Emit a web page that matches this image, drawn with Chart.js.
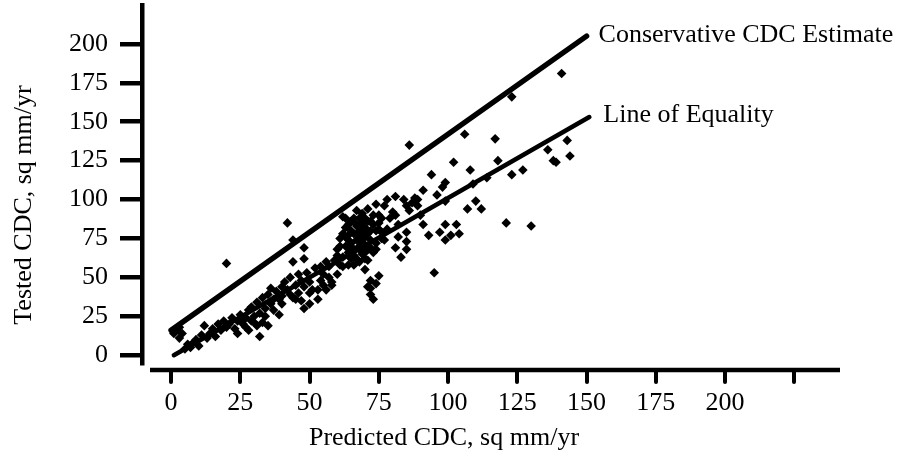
<!DOCTYPE html>
<html>
<head>
<meta charset="utf-8">
<title>Tested vs Predicted CDC</title>
<script src="https://cdn.jsdelivr.net/npm/chart.js@4.4.1/dist/chart.umd.min.js"></script>
<style>
  html, body { margin: 0; padding: 0; background: #fff; }
  #wrap { width: 899px; height: 455px; }
</style>
</head>
<body>
<div id="wrap"><canvas id="cdcChart" width="899" height="455"></canvas></div>
<script>
// Tick labels
const xTicks = [0, 25, 50, 75, 100, 125, 150, 175, 200, 225];
const yTicks = [0, 25, 50, 75, 100, 125, 150, 175, 200];

// Scatter points: predicted CDC (x) and tested CDC (y), sq mm/yr
const predicted = [
  1, 2, 3, 3, 4, 5, 6, 7, 8, 9, 10, 11, 12, 13, 14, 15, 16, 17, 18, 19, 20, 20, 21,
  22, 23, 24, 24, 25, 26, 26, 27, 27, 28, 28, 29, 29, 30, 30, 31, 31, 32, 32, 33, 33, 34, 34, 35,
  35, 36, 36, 37, 37, 38, 39, 39, 40, 40, 40, 41, 42, 42, 43, 43, 44, 44, 44, 45, 45, 46, 46,
  47, 47, 48, 48, 48, 48, 49, 50, 50, 50, 51, 52, 53, 53, 54, 54, 55, 55, 56,
  56, 57, 57, 58, 58, 59, 60, 60, 60, 61, 61, 61, 62, 62, 62, 62, 63, 63, 63, 63, 64, 64, 64, 64, 64,
  65, 65, 65, 65, 65, 66, 66, 66, 66, 66, 67, 67, 67, 67, 67, 67, 68, 68, 68, 68, 68, 68, 68,
  69, 69, 69, 69, 69, 69, 70, 70, 70, 70, 70, 70, 70, 71, 71, 71, 71, 71, 71, 72, 72, 72, 72, 72, 72, 72,
  73, 73, 73, 73, 74, 74, 74, 74, 74, 75, 75, 75, 75, 76, 76, 76, 77, 77, 78, 78, 79, 80,
  81, 81, 81, 82, 82, 83, 84, 85, 85, 85, 85, 86, 86, 87, 88, 89, 89, 90, 91, 91,
  93, 94, 95, 96, 97, 98, 99, 99, 99, 99, 101, 102, 103, 104, 106, 107, 108, 109, 110, 112,
  114,
  117, 118, 121, 123, 123, 127, 130, 136, 138, 139, 141, 143, 144
];
const tested = [
  14, 16, 11, 18, 14, 4, 7, 5, 8, 10, 6, 13, 19, 11, 14, 17, 12, 20, 16, 22, 18, 59, 20,
  24, 17, 22, 14, 26, 20, 23, 24, 18, 29, 16, 22, 31, 25, 21, 19, 34, 12, 27, 21, 37, 30, 25, 19,
  39, 33, 43, 29, 36, 41, 26, 36, 44, 33, 38, 47, 42, 85, 50, 39, 37, 60, 74, 45, 36, 40, 52,
  35, 48, 30, 44, 62, 69, 53, 33, 47, 40, 42, 56, 36, 42, 57, 48, 45, 52, 60,
  42, 50, 57, 47, 45, 61, 52, 68, 64, 75, 58, 70, 63, 89, 78, 57, 82, 70, 88, 76, 58, 66, 77, 84, 74,
  86, 72, 62, 80, 68, 78, 68, 64, 88, 58, 93, 74, 83, 84, 62, 78, 70, 68, 78, 60, 88, 82, 74,
  79, 72, 65, 85, 91, 76, 55, 71, 76, 62, 82, 88, 66, 94, 44, 68, 61, 78, 86, 48, 74, 39, 43, 80, 69, 86,
  84, 66, 36, 90, 46, 97, 72, 68, 80, 51, 81, 90, 85, 88, 75, 79, 74, 96, 81, 100, 88, 92,
  102, 69, 90, 76, 84, 63, 100, 79, 73, 96, 68, 135, 93, 98, 101, 96, 100, 90, 84, 106,
  77, 116, 53, 103, 79, 108, 84, 74, 99, 111, 77, 124, 84, 78, 142, 94, 119, 110, 99, 94,
  114,
  139, 125, 85, 166, 116, 119, 83, 132, 125, 124, 181, 138, 128
];

// Reference lines
const conservativeX = [0, 150];
const conservativeY = [16, 205];
const equalityX = [1, 151];
const equalityY = [0, 153];

const xTitle = 'Predicted CDC, sq mm/yr';
const yTitle = 'Tested CDC, sq mm/yr';
const conservativeLabel = 'Conservative CDC Estimate';
const equalityLabel = 'Line of Equality';

const serif = '"Liberation Serif", "Times New Roman", serif';
const fontSize = 26;

const toPoints = (xs, ys) => xs.map((x, i) => ({ x: x, y: ys[i] }));

// Draws the detached x axis, axis titles and the line labels
const decoPlugin = {
  id: 'deco',
  afterDraw(chart) {
    const { ctx, chartArea } = chart;
    const xs = chart.scales.x;
    const ys = chart.scales.y;
    ctx.save();

    // x axis line with ticks, sitting a little below the plot
    const axisY = chartArea.bottom + 7;
    ctx.strokeStyle = '#000';
    ctx.lineWidth = 4.5;
    ctx.lineCap = 'butt';
    ctx.beginPath();
    ctx.moveTo(chartArea.left + 8, axisY);
    ctx.lineTo(chartArea.right, axisY);
    ctx.stroke();
    ctx.lineWidth = 4;
    ctx.lineCap = 'round';
    xTicks.forEach(v => {
      const px = Math.round(xs.getPixelForValue(v));
      ctx.beginPath();
      ctx.moveTo(px, axisY);
      ctx.lineTo(px, axisY + 12);
      ctx.stroke();
    });

    ctx.fillStyle = '#000';
    ctx.font = fontSize + 'px ' + serif;

    // axis titles
    ctx.textAlign = 'center';
    ctx.textBaseline = 'alphabetic';
    ctx.fillText(xTitle, 444, 445);
    ctx.save();
    ctx.translate(31, 205);
    ctx.rotate(-Math.PI / 2);
    ctx.fillText(yTitle, 0, 0);
    ctx.restore();

    // labels at the end of each reference line
    ctx.textAlign = 'left';
    const cx = xs.getPixelForValue(conservativeX[1]);
    const cy = ys.getPixelForValue(conservativeY[1]);
    ctx.fillText(conservativeLabel, cx + 12, cy + 6);
    const ex = xs.getPixelForValue(equalityX[1]);
    const ey = ys.getPixelForValue(equalityY[1]);
    ctx.fillText(equalityLabel, ex + 14, ey + 5);

    ctx.restore();
  }
};

const ctx = document.getElementById('cdcChart').getContext('2d');
const cdcChart = new Chart(ctx, {
  type: 'scatter',
  data: {
    datasets: [
      {
        label: 'Data',
        data: toPoints(predicted, tested),
        pointStyle: 'rectRot',
        pointRadius: 4.8,
        backgroundColor: '#000',
        borderWidth: 0
      },
      {
        label: conservativeLabel,
        data: toPoints(conservativeX, conservativeY),
        showLine: true,
        pointRadius: 0,
        borderColor: '#000',
        borderWidth: 5.5,
        borderCapStyle: 'round'
      },
      {
        label: equalityLabel,
        data: toPoints(equalityX, equalityY),
        showLine: true,
        pointRadius: 0,
        borderColor: '#000',
        borderWidth: 4.5,
        borderCapStyle: 'round'
      }
    ]
  },
  options: {
    responsive: false,
    animation: false,
    layout: { padding: { left: 0, right: 59, top: 5, bottom: 0 } },
    scales: {
      x: {
        type: 'linear',
        min: -10.5,
        max: 241.5,
        afterBuildTicks: (scale) => { scale.ticks = xTicks.map(v => ({ value: v })); },
        afterFit: (scale) => {
          scale.height = 92;
          scale.paddingLeft = 0;
          scale.paddingRight = 0;
        },
        grid: { display: false, drawTicks: false, tickLength: 0 },
        border: { display: false },
        ticks: {
          padding: 25,
          color: '#000',
          font: { family: serif, size: fontSize },
          maxRotation: 0,
          callback: (v) => (v === 225 ? '' : v)
        }
      },
      y: {
        type: 'linear',
        min: -5,
        max: 225,
        afterBuildTicks: (scale) => { scale.ticks = yTicks.map(v => ({ value: v })); },
        afterFit: (scale) => {
          scale.width = 142;
          scale.paddingTop = 0;
          scale.paddingBottom = 0;
        },
        grid: {
          display: true,
          drawOnChartArea: false,
          drawTicks: true,
          tickLength: 22,
          lineWidth: 4.5,
          color: '#000'
        },
        border: { display: true, width: 4.5, color: '#000' },
        ticks: {
          padding: 12,
          color: '#000',
          font: { family: serif, size: fontSize }
        }
      }
    },
    plugins: {
      legend: { display: false },
      tooltip: { enabled: false }
    }
  },
  plugins: [decoPlugin]
});
</script>
</body>
</html>
